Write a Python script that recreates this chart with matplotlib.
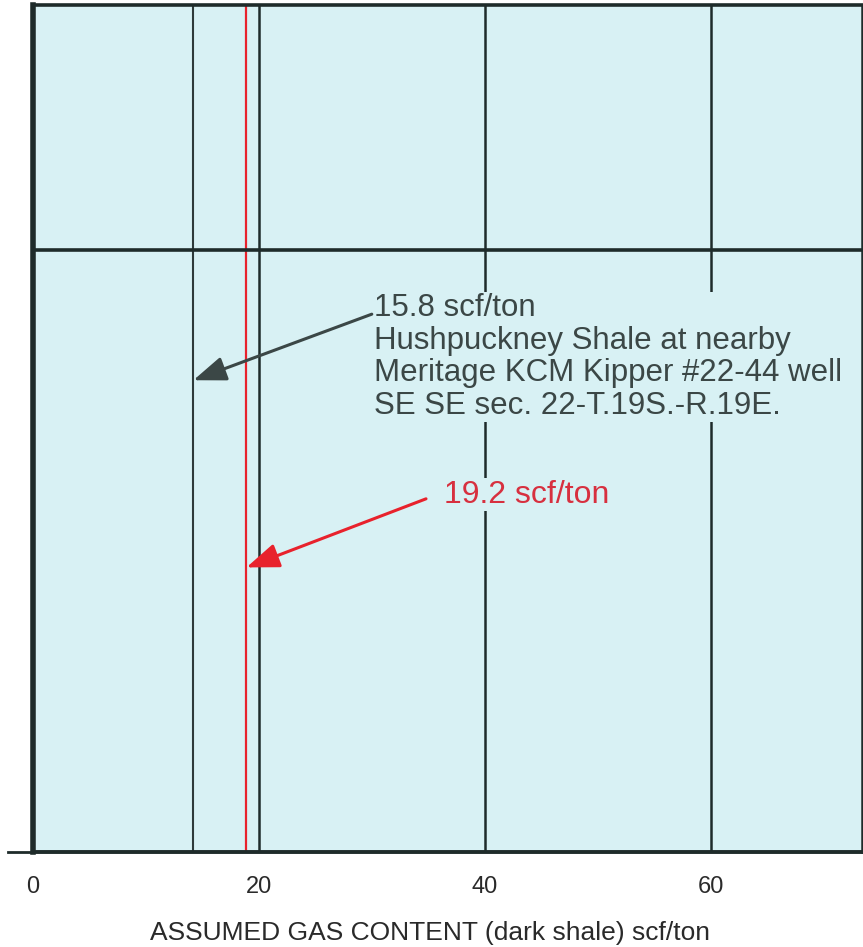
import matplotlib
matplotlib.use("Agg")
import matplotlib.pyplot as plt

plt.rcParams['font.family'] = ['Liberation Sans', 'DejaVu Sans']

# 数据
grid_x = [20, 40, 60]
tick_values = [0, 20, 40, 60]
tick_labels = ["0", "20", "40", "60"]
kipper_x = 14.2          # 15.8 scf/ton line as drawn
assumed_x = 18.9         # 19.2 scf/ton line as drawn
split_y = 71.1
kipper_text = ("15.8 scf/ton\nHushpuckney Shale at nearby\n"
               "Meritage KCM Kipper #22-44 well\nSE SE sec. 22-T.19S.-R.19E.")
assumed_text = "19.2 scf/ton"
xlabel = "ASSUMED GAS CONTENT (dark shale) scf/ton"

bg = "#d8f1f4"
dark = "#1e2b2a"
red = "#e8222c"

fig = plt.figure(figsize=(8.63, 9.47), dpi=100)
ax = fig.add_axes([0.0382, 0.1003, 0.9606, 0.8944])
ax.set_facecolor(bg)
ax.set_xlim(0, 73.4)
ax.set_ylim(0, 100)

for x in grid_x:
    ax.axvline(x, color=dark, lw=1.8, zorder=1)
ax.axvline(kipper_x, color="#2e3a3a", lw=1.5, zorder=1)
ax.axvline(assumed_x, color=red, lw=1.6, zorder=2)
ax.axhline(split_y, color=dark, lw=2.6, zorder=2)

# 边框
for side, w in [("left", 4.0), ("top", 2.6), ("bottom", 2.8), ("right", 1.8)]:
    ax.spines[side].set_color(dark)
    ax.spines[side].set_linewidth(w)
ax.plot([-2.2, 0], [0, 0], color=dark, lw=2.0, clip_on=False, zorder=5)

# 注释
ax.text(30.2, 66.0, kipper_text, ha="left", va="top", fontsize=22.5,
        color="#3b4746", linespacing=1.11, zorder=3,
        bbox=dict(facecolor=bg, edgecolor="none", pad=1))
ax.annotate("", xy=(kipper_x, 55.7), xytext=(30.0, 63.5), zorder=4,
            arrowprops=dict(arrowstyle="-|>,head_length=2.0,head_width=0.75",
                            color="#3b4746", lw=2.2, shrinkA=0, shrinkB=0))

ax.text(36.4, 42.2, assumed_text, ha="left", va="center", fontsize=23,
        color="#d7303f", zorder=3,
        bbox=dict(facecolor=bg, edgecolor="none", pad=1))
ax.annotate("", xy=(assumed_x, 33.6), xytext=(34.8, 41.7), zorder=4,
            arrowprops=dict(arrowstyle="-|>,head_length=2.0,head_width=0.75",
                            color=red, lw=2.2, shrinkA=0, shrinkB=0))

ax.set_xticks(tick_values)
ax.set_xticklabels(tick_labels, fontsize=17, color="#2a2a2a")
ax.tick_params(axis="x", length=0, pad=17)
ax.set_yticks([])
ax.set_xlabel(xlabel, fontsize=19, color="#2a2a2a")
ax.xaxis.set_label_coords(0.479, -0.081)

fig.savefig("out.png", dpi=100)
